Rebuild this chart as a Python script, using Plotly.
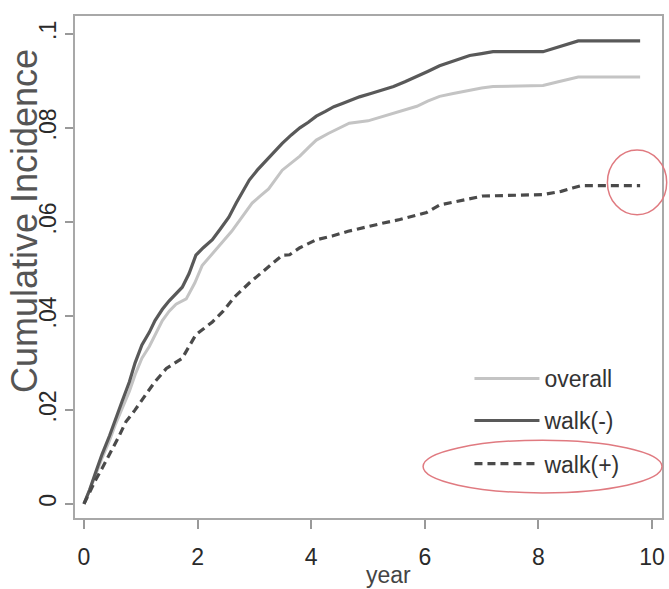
import plotly.graph_objects as go

# ---- data ----
t_walk_neg = [0, .1, .2, .32, .45, .55, .67, .8, .9, 1.02, 1.15, 1.25, 1.38, 1.5, 1.62, 1.73, 1.85, 1.97,
              2.1, 2.26, 2.4, 2.55, 2.68, 2.8, 2.91, 3.05, 3.2, 3.35, 3.49, 3.65, 3.8, 3.95, 4.09, 4.25,
              4.4, 4.55, 4.67, 4.85, 5.05, 5.26, 5.45, 5.65, 5.86, 6.05, 6.26, 6.5, 6.79, 7.0, 7.2,
              8.08, 8.35, 8.55, 8.7, 9.79]
ci_walk_neg = [0, .003, .0065, .0106, .0145, .018, .0218, .026, .030, .0338, .0365, .039, .0414, .0432,
               .0448, .0461, .049, .0529, .0545, .0562, .0585, .061, .064, .0665, .0689, .071, .073, .075,
               .0767, .0785, .080, .0812, .0825, .0835, .0845, .0852, .0858, .0866, .0873, .088, .0888,
               .0898, .0909, .092, .0932, .0942, .0954, .0958, .0962, .0962, .0972, .0978, .0985, .0985]

t_overall = [0, .1, .2, .32, .45, .55, .67, .8, .9, 1.02, 1.15, 1.25, 1.38, 1.5, 1.62, 1.8, 1.95, 2.08,
             2.25, 2.43, 2.6, 2.78, 2.96, 3.1, 3.25, 3.49, 3.65, 3.8, 3.95, 4.09, 4.3, 4.5, 4.67, 5.0,
             5.26, 5.55, 5.86, 6.05, 6.26, 6.5, 6.79, 7.0, 7.2, 8.08, 8.35, 8.55, 8.7, 9.79]
ci_overall = [0, .0028, .006, .0098, .0135, .0168, .0203, .024, .0275, .031, .0335, .036, .039, .041,
              .0425, .0436, .047, .0507, .053, .0556, .058, .061, .064, .0655, .067, .071, .0725, .074,
              .0758, .0774, .0788, .080, .081, .0815, .0824, .0835, .0846, .0857, .0867, .0873, .088,
              .0885, .0888, .089, .0898, .0903, .0908, .0908]

t_walk_pos = [0, .1, .2, .32, .45, .6, .74, .9, 1.09, 1.25, 1.45, 1.6, 1.73, 1.85, 1.97, 2.1, 2.26, 2.45,
              2.65, 2.91, 3.1, 3.3, 3.49, 3.62, 3.8, 4.09, 4.37, 4.65, 4.97, 5.25, 5.56, 6.03, 6.26, 6.5,
              6.74, 7.02, 8.08, 8.4, 8.6, 8.75, 9.79]
ci_walk_pos = [0, .0025, .005, .0076, .0105, .014, .0175, .020, .0233, .026, .0288, .030, .031, .0335,
               .036, .0372, .0387, .041, .044, .047, .049, .051, .0529, .053, .0545, .0562, .057, .058,
               .059, .0597, .0605, .062, .0636, .0642, .0647, .0655, .0658, .0665, .0672, .0677, .0677]

x_ticks = [0, 2, 4, 6, 8, 10]
y_ticks = [0, .02, .04, .06, .08, .1]
y_tick_text = ["0", ".02", ".04", ".06", ".08", ".1"]

FONT = "Liberation Sans, Arial, sans-serif"

fig = go.Figure()
fig.add_trace(go.Scatter(x=t_overall, y=ci_overall, mode="lines", name="overall", legend="legend",
                         line=dict(color="#c4c4c4", width=3, shape="linear")))
fig.add_trace(go.Scatter(x=t_walk_neg, y=ci_walk_neg, mode="lines", name="walk(-)", legend="legend2",
                         line=dict(color="#595959", width=3.2, shape="linear")))
fig.add_trace(go.Scatter(x=t_walk_pos, y=ci_walk_pos, mode="lines", name="walk(+)", legend="legend3",
                         line=dict(color="#4a4a4a", width=3.2, shape="linear", dash="8px,5px")))

leg_common = dict(x=0.672, xanchor="left", yanchor="top", bgcolor="rgba(0,0,0,0)",
                  font=dict(size=23, color="#333333"), itemwidth=65)

fig.update_layout(
    width=669, height=589,
    margin=dict(l=75, r=4, t=16, b=71),
    paper_bgcolor="white", plot_bgcolor="white",
    font=dict(family=FONT, color="#333333"),
    showlegend=True,
    legend=dict(y=0.3207, **leg_common),
    legend2=dict(y=0.237, **leg_common),
    legend3=dict(y=0.151, **leg_common),
    xaxis=dict(range=[-0.158, 10.175], tickvals=x_ticks, ticks="outside", ticklen=9,
               tickwidth=1.5, tickcolor="#999999", showgrid=False, zeroline=False,
               showline=True, linecolor="#a8a8a8", linewidth=2, mirror=True,
               ticklabelstandoff=8, tickfont=dict(size=23, color="#2a2a2a")),
    yaxis=dict(range=[-0.003, 0.1038], tickvals=y_ticks, ticktext=y_tick_text, tickangle=-90,
               ticks="outside", ticklen=8, tickwidth=1.5, tickcolor="#999999",
               showgrid=False, zeroline=False, showline=True, linecolor="#a8a8a8",
               linewidth=2, mirror=True, tickfont=dict(size=23, color="#2a2a2a")),
    annotations=[
        dict(text="Cumulative Incidence", xref="paper", yref="paper", x=-0.0847, y=0.592,
             xanchor="center", yanchor="middle",
             textangle=-90, showarrow=False, font=dict(size=36, color="#555555")),
        dict(text="year", xref="paper", yref="paper", x=0.534, y=-0.1135,
             xanchor="center", yanchor="middle",
             showarrow=False, font=dict(size=23, color="#444444")),
    ],
    shapes=[
        dict(type="circle", xref="paper", yref="paper", x0=0.907, x1=1.008, y0=0.604, y1=0.733,
             line=dict(color="#e07a80", width=1.5)),
        dict(type="circle", xref="paper", yref="paper", x0=0.593, x1=1.0, y0=0.050, y1=0.155,
             line=dict(color="#e07a80", width=1.5)),
    ],
)

fig.write_html("out.html")
